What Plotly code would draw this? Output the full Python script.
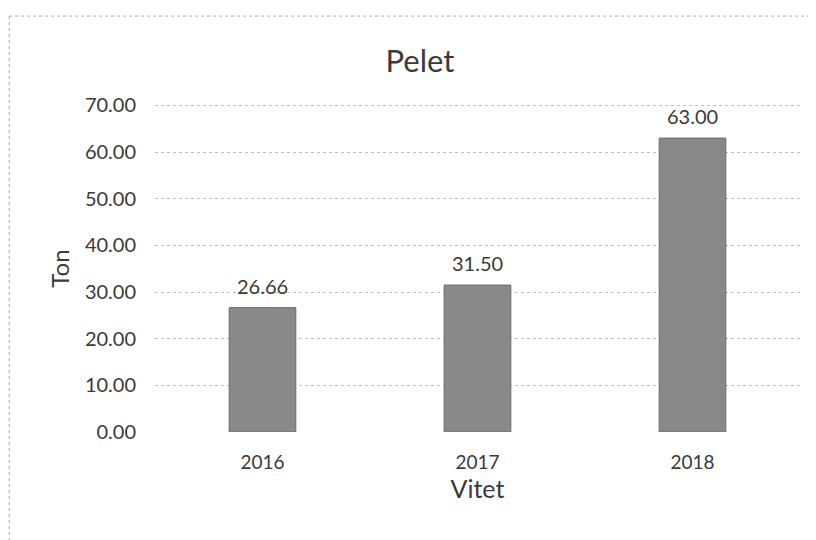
import plotly.graph_objects as go

years = ["2016", "2017", "2018"]
values = [26.66, 31.50, 63.00]
labels = ["26.66", "31.50", "63.00"]
y_ticks = [0, 10, 20, 30, 40, 50, 60, 70]
y_ticktext = ["0.00", "10.00", "20.00", "30.00", "40.00", "50.00", "60.00", "70.00"]

FONT = "Lato, Open Sans, sans-serif"
TXT = "#3a3a3a"
GRID = "#bcbcbc"

fig = go.Figure()
fig.add_trace(go.Bar(
    x=years, y=values,
    marker=dict(color="#898989", line=dict(color="#6a6a6a", width=1)),
    width=0.31, cliponaxis=False,
))

# data labels: category index on the x axis, bar value on the y axis
annotations = [
    dict(x=i, y=v, xref="x", yref="y", text=lab, showarrow=False, yanchor="middle", yshift=22,
         font=dict(size=20, color=TXT, family=FONT))
    for i, (v, lab) in enumerate(zip(values, labels))
]

fig.update_layout(
    width=816, height=540,
    margin=dict(l=147, r=24, t=97, b=116),
    paper_bgcolor="white", plot_bgcolor="white",
    showlegend=False,
    title=dict(text="Pelet", x=412 / 816, xanchor="center", xref="container", y=1 - 53 / 540,
               yanchor="middle", font=dict(size=31, color=TXT, family=FONT)),
    font=dict(family=FONT, color=TXT),
    annotations=annotations,
    xaxis=dict(
        type="category",
        title=dict(text="Vitet", font=dict(size=25, color=TXT), standoff=8),
        tickfont=dict(size=19, color=TXT), showgrid=False, showline=False,
        ticks="", ticklabelstandoff=17,
    ),
    yaxis=dict(
        title=dict(text="Ton", font=dict(size=24, color=TXT), standoff=8),
        range=[0, 70.1], tickvals=y_ticks, ticktext=y_ticktext,
        tickfont=dict(size=20, color=TXT),
        showgrid=True, gridcolor=GRID, griddash="dot", gridwidth=1,
        zeroline=False, showline=False, ticks="", ticklabelstandoff=18,
    ),
    shapes=[
        dict(type="line", xref="paper", yref="y", x0=0, x1=1, y0=y_ticks[-1], y1=y_ticks[-1],
             line=dict(color=GRID, width=1, dash="dot"), layer="below"),
        dict(type="line", xref="paper", yref="paper", x0=-0.226, x1=1.04, y0=1.272, y1=1.272,
             line=dict(color="#a8a8a8", width=1, dash="dot")),
        dict(type="line", xref="paper", yref="paper", x0=-0.226, x1=-0.226, y0=1.272, y1=-0.36,
             line=dict(color="#a8a8a8", width=1, dash="dot")),
    ],
)

fig.write_html("out.html")
